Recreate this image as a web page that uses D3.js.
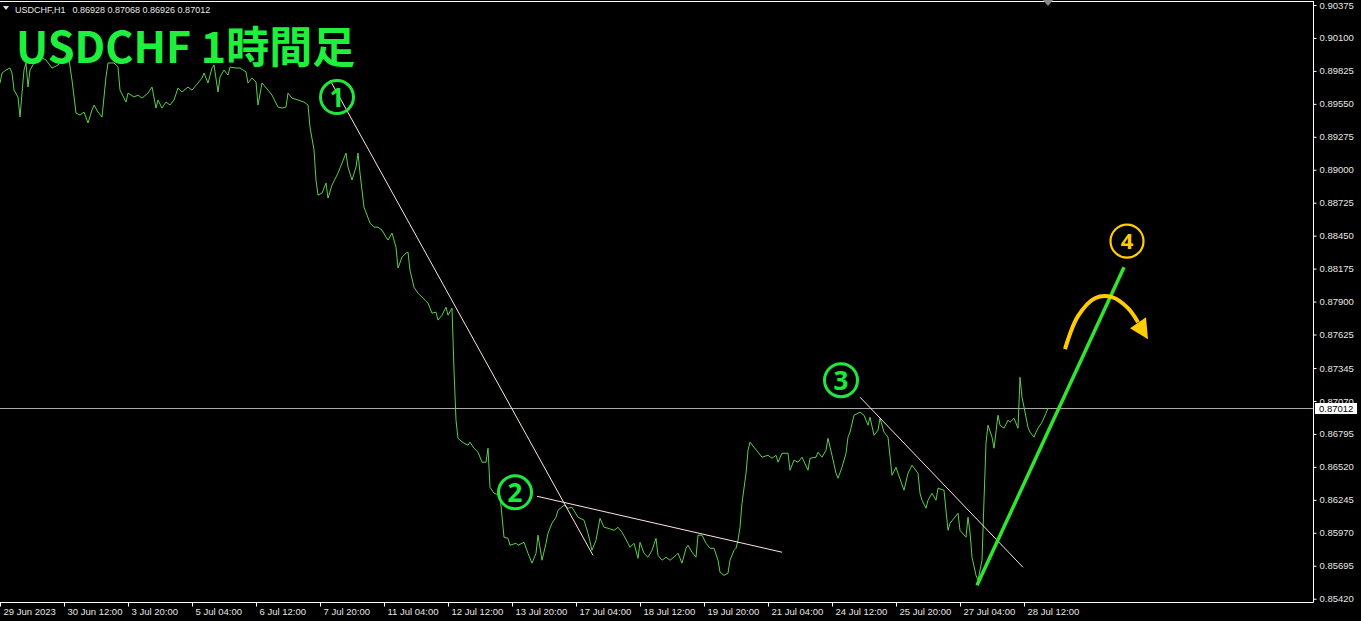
<!DOCTYPE html>
<html>
<head>
<meta charset="utf-8">
<script src="https://cdn.jsdelivr.net/npm/d3@7"></script>
<style>
  body { margin: 0; background: #000; overflow: hidden; }
  svg { display: block; }
</style>
</head>
<body>
<div id="chart"></div>
<script>
// hourly bar index (0 = 29 Jun 2023 04:00), close price
const bars = [0,1,3,5,6,7,9,10,11,12,13,14,15,17,20,23,26,29,31,34,36,38,40,42,44,46,47,49,51,53,54,57,59,60,63,64,67,69,71,74,76,78,79,81,83,85,87,89,91,94,96,99,101,102,104,106,107,109,110,112,114,115,118,120,123,124,126,128,129,131,134,136,139,141,143,144,146,149,152,154,155,157,158,159,161,163,164,166,169,173,174,176,178,179,180,182,185,187,189,191,193,194,196,197,198,199,201,203,204,205,207,209,211,214,216,218,219,221,223,224,226,227,228,229,230,232,234,235,237,239,241,243,244,245,247,250,252,254,255,258,259,262,264,266,268,269,271,273,274,276,278,279,282,284,286,289,292,294,296,298,300,302,304,307,309,311,314,315,317,319,320,322,324,326,328,329,331,333,335,338,339,341,343,344,346,348,349,351,353,355,357,359,360,362,364,365,367,368,369,370,371,373,374,375,377,379,381,384,386,388,389,391,394,395,397,399,401,404,405,408,409,411,413,414,416,418,419,421,423,424,425,427,429,430,432,434,435,437,439,440,442,444,446,448,449,452,454,456,459,460,461,463,464,466,468,469,472,474,475,477,479,480,483,484,485,486,488,489,491,492,493,494,496,497,499,500,502,504,505,507,509,510,511,514,515,517,518,519,521,523,524];
const closes = [0.89724,0.89807,0.89832,0.89849,0.89807,0.89665,0.89607,0.89440,0.89640,0.89832,0.89891,0.89690,0.89832,0.89891,0.89941,0.89916,0.89849,0.89874,0.89916,0.89974,0.89749,0.89473,0.89456,0.89482,0.89390,0.89498,0.89540,0.89482,0.89440,0.89774,0.89891,0.89891,0.89857,0.89665,0.89565,0.89640,0.89607,0.89623,0.89598,0.89640,0.89690,0.89515,0.89582,0.89515,0.89565,0.89540,0.89582,0.89682,0.89649,0.89690,0.89665,0.89724,0.89765,0.89807,0.89724,0.89849,0.89874,0.89649,0.89774,0.89832,0.89790,0.89857,0.89849,0.89849,0.89816,0.89724,0.89765,0.89732,0.89540,0.89724,0.89665,0.89623,0.89523,0.89515,0.89523,0.89640,0.89598,0.89582,0.89565,0.89540,0.89356,0.89164,0.88914,0.88788,0.88805,0.88889,0.88763,0.88872,0.88972,0.89139,0.89022,0.88914,0.89022,0.89139,0.88972,0.88688,0.88555,0.88521,0.88521,0.88496,0.88438,0.88413,0.88471,0.88413,0.88354,0.88179,0.88271,0.88304,0.88313,0.88162,0.88020,0.87970,0.87937,0.87887,0.87803,0.87812,0.87745,0.87786,0.87853,0.87786,0.87845,0.87327,0.86910,0.86759,0.86743,0.86718,0.86701,0.86726,0.86676,0.86643,0.86559,0.86559,0.86676,0.86350,0.86300,0.86283,0.85933,0.85924,0.85866,0.85883,0.85866,0.85891,0.85799,0.85716,0.85799,0.85950,0.85741,0.85883,0.85966,0.86050,0.86100,0.86158,0.86200,0.86175,0.86183,0.86100,0.86075,0.85966,0.85824,0.85908,0.86091,0.86016,0.86008,0.85991,0.86016,0.85975,0.85883,0.85849,0.85883,0.85757,0.85891,0.85799,0.85766,0.85824,0.85924,0.85782,0.85741,0.85766,0.85741,0.85782,0.85799,0.85716,0.85841,0.85866,0.85808,0.85766,0.85950,0.85950,0.85883,0.85841,0.85841,0.85741,0.85641,0.85615,0.85632,0.85741,0.85824,0.85841,0.85908,0.86016,0.86217,0.86467,0.86659,0.86726,0.86684,0.86643,0.86601,0.86617,0.86592,0.86617,0.86559,0.86634,0.86634,0.86492,0.86576,0.86559,0.86601,0.86492,0.86592,0.86601,0.86643,0.86601,0.86659,0.86759,0.86617,0.86467,0.86425,0.86517,0.86634,0.86768,0.86810,0.86951,0.86968,0.86977,0.86951,0.86868,0.86935,0.86784,0.86826,0.86926,0.86810,0.86768,0.86450,0.86517,0.86467,0.86325,0.86467,0.86534,0.86467,0.86300,0.86242,0.86175,0.86242,0.86300,0.86242,0.86342,0.86325,0.85991,0.86050,0.86091,0.86133,0.85991,0.85933,0.86100,0.85975,0.85766,0.85615,0.85574,0.85741,0.86242,0.86718,0.86868,0.86768,0.86676,0.86951,0.86868,0.86843,0.86910,0.86893,0.86926,0.86843,0.87268,0.87102,0.86851,0.86810,0.86768,0.86810,0.86843,0.86893,0.86968,0.87012];

const priceTicks = [0.90375,0.90100,0.89825,0.89550,0.89275,0.89000,0.88725,0.88450,0.88175,0.87900,0.87625,0.87345,0.87070,0.86795,0.86520,0.86245,0.85970,0.85695,0.85420];
const timeTicks = [0,32,64,96,128,160,192,224,256,288,320,352,384,416,448,480,512];
const timeLabels = ["29 Jun 2023","30 Jun 12:00","3 Jul 20:00","5 Jul 04:00","6 Jul 12:00","7 Jul 20:00","11 Jul 04:00","12 Jul 12:00","13 Jul 20:00","17 Jul 04:00","18 Jul 12:00","19 Jul 20:00","21 Jul 04:00","24 Jul 12:00","25 Jul 20:00","27 Jul 04:00","28 Jul 12:00"];
const lastPrice = 0.87012;
const headerSymbol = "USDCHF,H1";
const headerOHLC = "0.86928 0.87068 0.86926 0.87012";
const title = "USDCHF 1時間足";

// drawn objects, in [bar, price]
const trendLines = [
  [[165, 0.89749], [296.5, 0.85782]],
  [[268.5, 0.86275], [391, 0.85808]],
  [[430, 0.87102], [511.5, 0.85682]]
];
const upLine = [[488.5, 0.85532], [562, 0.88187]];
const marks = [
  {label: "1", bar: 168.5, price: 0.89607, color: "#1ee83c"},
  {label: "2", bar: 257.5, price: 0.86308, color: "#1ee83c"},
  {label: "3", bar: 420.5, price: 0.87244, color: "#1ee83c"},
  {label: "4", bar: 563.5, price: 0.88404, color: "#ffcc00"}
];
const arrowPath = [[532.5, 0.87503], [539, 0.87778], [547.5, 0.87928], [556, 0.87937], [564, 0.87845], [569, 0.87728]];
const arrowHead = [[574, 0.87586], [565, 0.87678], [573, 0.87770]];

const W = 1361, H = 621;
const plotRight = 1313, plotBottom = 602;

const svg = d3.select("#chart").append("svg")
  .attr("width", W).attr("height", H)
  .style("background", "#000");

const x = d3.scaleLinear().domain([0, 656.5]).range([0, plotRight]);
const y = d3.scaleLinear().domain([0.85420, 0.90375]).range([598.7, 5]);

const font = "'Liberation Sans', Arial, sans-serif";
const ly = Math.round(y(lastPrice));

// frame
svg.append("line").attr("x1", 0).attr("x2", plotRight).attr("y1", 1.5).attr("y2", 1.5)
  .attr("stroke", "#fff").attr("stroke-width", 1);

// price axis
const yAxis = svg.append("g")
  .attr("transform", `translate(${plotRight + 0.5},0)`)
  .call(d3.axisRight(y).tickValues(priceTicks).tickSize(3).tickSizeOuter(0)
    .tickFormat(d => d.toFixed(5)));
yAxis.select(".domain").attr("stroke", "#fff").attr("d", `M0,1V${plotBottom + 0.5}`);
yAxis.selectAll(".tick line").attr("stroke", "#fff");
yAxis.selectAll(".tick text").attr("fill", "#e6e6e6").attr("x", 6)
  .style("font", `9.5px ${font}`);

// the last-price box hides the lower part of the tick label it sits on
const hidden = priceTicks.filter(d => Math.abs(y(d) - ly) < 10);
hidden.forEach((d, i) => {
  svg.append("clipPath").attr("id", "clipTick" + i)
    .append("rect").attr("x", 0).attr("y", -12).attr("width", 60)
    .attr("height", (ly - 5) - y(d) + 12);
});
yAxis.selectAll(".tick").filter(d => hidden.includes(d)).select("text")
  .attr("clip-path", d => `url(#clipTick${hidden.indexOf(d)})`);

// time axis
const xAxis = svg.append("g")
  .attr("transform", `translate(0,${plotBottom + 0.5})`)
  .call(d3.axisBottom(x).tickValues(timeTicks).tickSize(4).tickSizeOuter(0)
    .tickFormat((d, i) => timeLabels[i]));
xAxis.select(".domain").attr("stroke", "#fff").attr("d", `M0,0H${plotRight + 0.5}`);
xAxis.selectAll(".tick line").attr("stroke", "#fff");
xAxis.selectAll(".tick text").attr("fill", "#e6e6e6")
  .attr("text-anchor", "start").attr("x", 3).attr("y", 6)
  .style("font", `9.5px ${font}`);

// bid line
svg.append("line")
  .attr("x1", 0).attr("x2", plotRight)
  .attr("y1", ly + 0.5).attr("y2", ly + 0.5)
  .attr("stroke", "#a8a8a8").attr("stroke-width", 1);

// price label box
svg.append("rect").attr("x", plotRight + 2).attr("y", ly - 5).attr("width", 42).attr("height", 11)
  .attr("fill", "#fff");
svg.append("text").attr("x", plotRight + 6).attr("y", ly + 4)
  .attr("fill", "#000").style("font", `9.5px ${font}`).text(lastPrice.toFixed(5));

// chart-shift marker
svg.append("path").attr("d", "M1043,0 L1053,0 L1048,6 Z").attr("fill", "#888");

// header
svg.append("path").attr("d", "M3,6 L9,6 L6,10 Z").attr("fill", "#ddd");
const hdr = svg.append("text").attr("x", 15).attr("y", 13).attr("fill", "#e6e6e6")
  .style("font", `9px ${font}`);
hdr.append("tspan").text(headerSymbol);
hdr.append("tspan").attr("dx", 7).text(headerOHLC);

// price line
const points = bars.map((b, i) => [b, closes[i]]);
svg.append("path")
  .datum(points)
  .attr("fill", "none")
  .attr("stroke", "#5ccf4a")
  .attr("stroke-width", 1)
  .attr("d", d3.line().x(d => x(d[0])).y(d => y(d[1])));

// title
svg.append("text").attr("x", 16).attr("y", 63)
  .attr("fill", "#1ef03c")
  .style("font", "bold 43px 'Noto Sans CJK JP', 'Noto Sans', sans-serif")
  .text(title);

// trend lines
svg.selectAll(".trend").data(trendLines).join("line")
  .attr("class", "trend")
  .attr("x1", d => x(d[0][0])).attr("y1", d => y(d[0][1]))
  .attr("x2", d => x(d[1][0])).attr("y2", d => y(d[1][1]))
  .attr("stroke", "#ffe2e2").attr("stroke-width", 1);

svg.append("line")
  .attr("x1", x(upLine[0][0])).attr("y1", y(upLine[0][1]))
  .attr("x2", x(upLine[1][0])).attr("y2", y(upLine[1][1]))
  .attr("stroke", "#2ee62e").attr("stroke-width", 3.5).attr("stroke-linecap", "butt");

// yellow arrow
svg.append("path")
  .datum(arrowPath)
  .attr("fill", "none").attr("stroke", "#ffcc00").attr("stroke-width", 4)
  .attr("d", d3.line().x(d => x(d[0])).y(d => y(d[1])).curve(d3.curveCatmullRom));
svg.append("path")
  .datum(arrowHead)
  .attr("fill", "#ffcc00")
  .attr("d", d3.line().x(d => x(d[0])).y(d => y(d[1])).curve(d3.curveLinearClosed));

// circled numbers
const mg = svg.selectAll(".mark").data(marks).join("g")
  .attr("class", "mark")
  .attr("transform", d => `translate(${x(d.bar)},${y(d.price)})`);
mg.append("circle").attr("r", 16.5)
  .attr("fill", "none").attr("stroke", d => d.color)
  .attr("stroke-width", d => d.label === "4" ? 2.2 : 3);
mg.append("text")
  .attr("text-anchor", "middle").attr("dy", d => d.label === "4" ? 8 : 9.5)
  .attr("fill", d => d.color)
  .style("font", d => d.label === "4" ? `bold 22px 'Noto Sans', sans-serif` : `bold 26px 'Noto Sans', sans-serif`)
  .text(d => d.label);
</script>
</body>
</html>
